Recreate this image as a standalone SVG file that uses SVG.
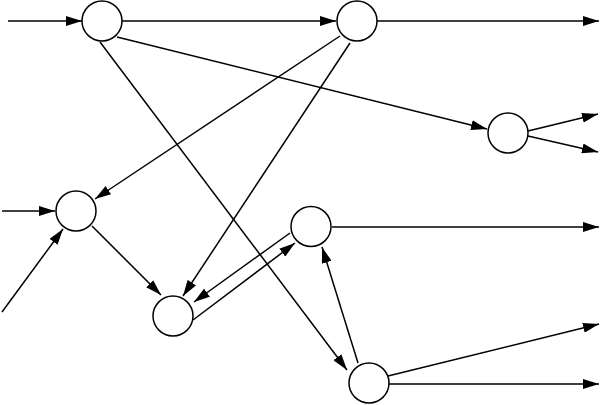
<svg xmlns="http://www.w3.org/2000/svg" width="600" height="405" viewBox="0 0 600 405">
<defs>
<marker id="arr" markerUnits="userSpaceOnUse" markerWidth="16" markerHeight="10" refX="16" refY="5" orient="auto">
<path d="M0,0 L16,5 L0,10 z" fill="#000"/>
</marker>
<style>
.e{stroke:#000;stroke-width:1.5;fill:none;marker-end:url(#arr)}
.n{stroke:#000;stroke-width:1.5;fill:#fff}
</style>
</defs>
<rect width="600" height="405" fill="#fff"/>
<g id="connectors">
<line class="e" x1="8" y1="21" x2="82" y2="21"/>
<line class="e" x1="122" y1="21" x2="336" y2="21"/>
<line class="e" x1="377" y1="21" x2="599" y2="21"/>
<line class="e" x1="117" y1="37" x2="487" y2="129"/>
<line class="e" x1="100" y1="42" x2="347" y2="370"/>
<line class="e" x1="340" y1="36" x2="95" y2="199"/>
<line class="e" x1="350" y1="43" x2="183" y2="296"/>
<line class="e" x1="528" y1="131" x2="598" y2="114"/>
<line class="e" x1="528" y1="136" x2="598" y2="152"/>
<line class="e" x1="2" y1="211" x2="55" y2="211"/>
<line class="e" x1="2" y1="312" x2="63" y2="229"/>
<line class="e" x1="92" y1="226" x2="161" y2="295"/>
<line class="e" x1="193" y1="320" x2="295" y2="243"/>
<line class="e" x1="290" y1="233" x2="194" y2="302"/>
<line class="e" x1="332" y1="227" x2="599" y2="227"/>
<line class="e" x1="358" y1="363" x2="322" y2="247"/>
<line class="e" x1="388" y1="376" x2="599" y2="324"/>
<line class="e" x1="389" y1="384" x2="599" y2="384"/>
</g>
<g id="nodeA"><circle class="n" cx="102" cy="21" r="20"/></g>
<g id="nodeB"><circle class="n" cx="357" cy="21" r="20"/></g>
<g id="nodeC"><circle class="n" cx="508" cy="133" r="20"/></g>
<g id="nodeD"><circle class="n" cx="76" cy="211" r="20"/></g>
<g id="nodeE"><circle class="n" cx="311" cy="226.5" r="20"/></g>
<g id="nodeF"><circle class="n" cx="173" cy="316" r="20"/></g>
<g id="nodeG"><circle class="n" cx="369" cy="383" r="20"/></g>
</svg>
